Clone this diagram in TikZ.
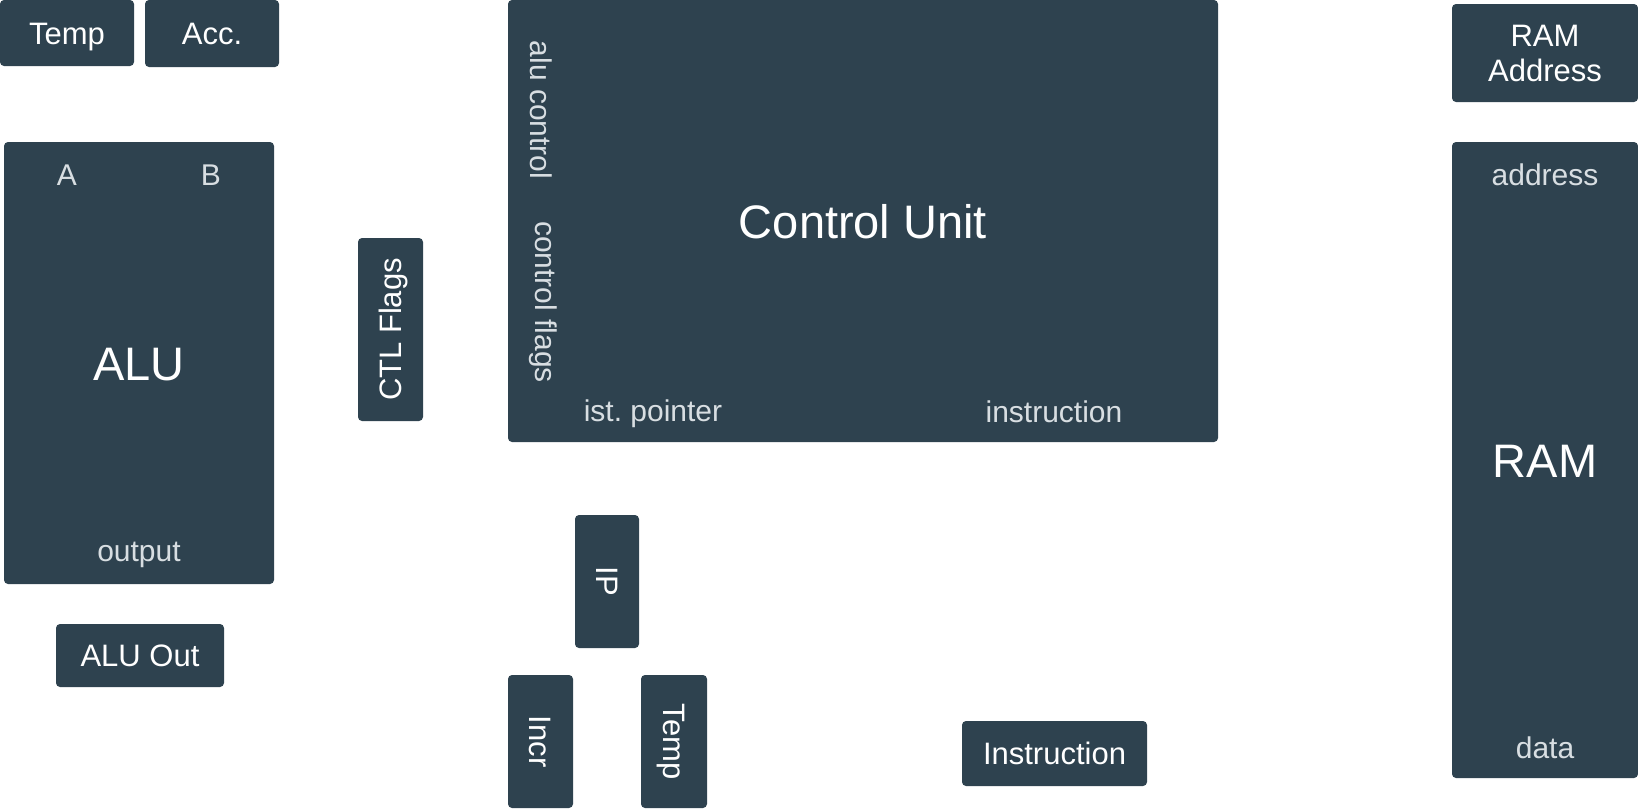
\documentclass[tikz,border=0pt]{standalone}
\usepackage{fontspec}
\setmainfont{Liberation Sans}
\usepackage{tikz}

\definecolor{boxfill}{RGB}{46,66,79}
\definecolor{sublabel}{RGB}{216,222,226}

\begin{document}
\begin{tikzpicture}[x=1pt, y=-1pt,
        block/.style={draw=none, fill=boxfill, rounded corners=4pt, inner sep=0pt, text=white,
                      font=\fontsize{31}{35}\selectfont, align=center, text height=22pt, text depth=0pt},
        bigblock/.style={block, font=\fontsize{47}{52}\selectfont, text height=34pt},
        port/.style={inner sep=0pt, text=sublabel, font=\fontsize{30}{34}\selectfont}]
        \useasboundingbox (0,0) rectangle (1638,809);

        % registers
        \node [block, minimum width=134pt, minimum height=66pt] (tempTop) at (67,33) {Temp};
        \node [block, minimum width=134pt, minimum height=67pt] (acc) at (212,33.5) {Acc.};
        \node [block, minimum width=168pt, minimum height=63pt] (aluOut) at (140,655.5) {ALU Out};
        \node [block, minimum width=183pt, minimum height=65pt, rotate=90] (ctlFlags) at (390.5,329.5) {CTL Flags};
        \node [block, minimum width=133pt, minimum height=64pt, rotate=-90] (ip) at (607,581.5) {IP};
        \node [block, minimum width=133pt, minimum height=65pt, rotate=-90] (incr) at (540.5,741.5) {Incr};
        \node [block, minimum width=133pt, minimum height=66pt, rotate=-90] (tempLow) at (674,741.5) {Temp};
        \node [block, minimum width=185pt, minimum height=65pt] (instr) at (1054.5,753.5) {Instruction};
        \node [block, minimum width=186pt, minimum height=98pt, text height=57pt] (ramAddr) at (1545,53) {RAM\\Address};

        % units
        \node [bigblock, minimum width=270pt, minimum height=442pt] (alu) at (139,363) {ALU};
        \node [port] (aluA) at (67,175) {A};
        \node [port] (aluB) at (211,175) {B};
        \node [port] (aluOutput) at (139,555) {output};

        \node [bigblock, minimum width=710pt, minimum height=442pt] (cu) at (863,221) {Control Unit};
        \node [port, rotate=-90] (cuAlu) at (541,110) {alu control};
        \node [port, rotate=-90] (cuFlags) at (543,302) {control flags};
        \node [port] (cuIp) at (653,414) {ist.\ pointer};
        \node [port] (cuInstr) at (1054,412) {instruction};

        \node [bigblock, minimum width=186pt, minimum height=636pt] (ram) at (1545,460) {RAM};
        \node [port] (ramAddress) at (1545,175) {address};
        \node [port] (ramData) at (1545,748) {data};
\end{tikzpicture}
\end{document}
